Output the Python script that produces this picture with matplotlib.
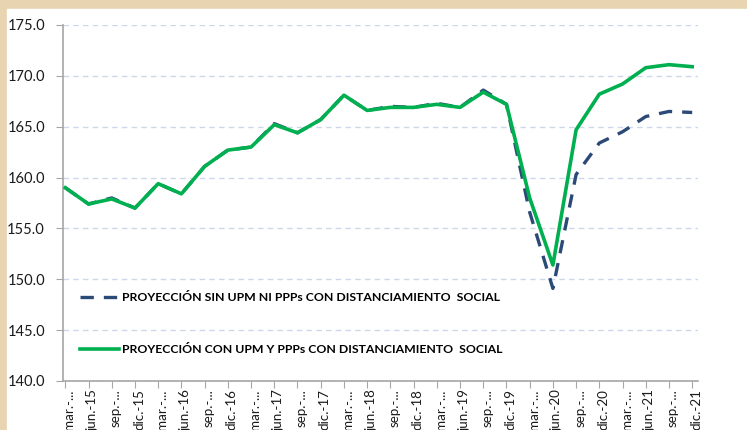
import matplotlib.pyplot as plt
from matplotlib.patches import Rectangle
from matplotlib.lines import Line2D
from matplotlib.transforms import ScaledTranslation

plt.rcParams['font.family'] = ['Lato', 'DejaVu Sans']

# quarterly labels, mar-15 .. dic-21
quarters = ["mar.-...", "jun.-15", "sep.-...", "dic.-15",
            "mar.-...", "jun.-16", "sep.-...", "dic.-16",
            "mar.-...", "jun.-17", "sep.-...", "dic.-17",
            "mar.-...", "jun.-18", "sep.-...", "dic.-18",
            "mar.-...", "jun.-19", "sep.-...", "dic.-19",
            "mar.-...", "jun.-20", "sep.-...", "dic.-20",
            "mar.-...", "jun.-21", "sep.-...", "dic.-21"]

sin_upm = [159.0, 157.4, 158.0, 157.0, 159.4, 158.4, 161.1, 162.7,
           163.0, 165.3, 164.4, 165.7, 168.1, 166.6, 167.0, 166.9,
           167.3, 166.9, 168.6, 167.2, 156.6, 149.1, 160.3, 163.4,
           164.5, 166.0, 166.5, 166.4]

con_upm = [159.0, 157.4, 157.9, 157.0, 159.4, 158.4, 161.1, 162.7,
           163.0, 165.2, 164.4, 165.7, 168.1, 166.6, 166.9, 166.9,
           167.2, 166.9, 168.4, 167.2, 158.0, 151.4, 164.7, 168.2,
           169.2, 170.8, 171.1, 170.9]

label_sin = "PROYECCIÓN SIN UPM NI PPPs CON DISTANCIAMIENTO  SOCIAL"
label_con = "PROYECCIÓN CON UPM Y PPPs CON DISTANCIAMIENTO  SOCIAL"

navy = '#2B4A78'
green = '#00B050'

fig = plt.figure(figsize=(7.47, 4.30), dpi=100)
fig.patch.set_facecolor('#E8D4B0')
fig.patches.append(Rectangle((7 / 747, 0), 1, 1 - 9 / 430,
                             transform=fig.transFigure, color='white', zorder=0))

ax = fig.add_axes([63 / 747, 1 - 381 / 430, 635 / 747, 356 / 430])
ax.set_zorder(2)
ax.set_facecolor('white')

x = list(range(len(quarters)))
ax.plot(x, sin_upm, color=navy, lw=2.4, dashes=(4, 3), zorder=3)
ax.plot(x, con_upm, color=green, lw=2.6, zorder=4)

ax.set_ylim(140, 175)
ax.set_yticks(range(140, 176, 5))
ax.set_yticklabels(["%.1f" % v for v in range(140, 176, 5)])
ax.set_xlim(-0.1, 27.25)
ax.set_xticks(x)
ax.set_xticklabels(quarters, rotation=90, va='top', ha='center')

for v in range(145, 176, 5):
    ax.axhline(v, color='#CCD8EA', lw=1, dashes=(4, 3), zorder=1)

for s in ['top', 'right']:
    ax.spines[s].set_visible(False)
for s in ['left', 'bottom']:
    ax.spines[s].set_color('#A6A6A6')
    ax.spines[s].set_linewidth(1.2)

ax.tick_params(axis='y', length=5, color='#A6A6A6', labelsize=10.5, pad=8, labelcolor='#1a1a1a')
ax.tick_params(axis='x', length=5, color='#A6A6A6', labelsize=9.6, pad=1, labelcolor='#1a1a1a')
for lab in ax.get_xticklabels():
    lab.set_transform(lab.get_transform() + ScaledTranslation(0.04, 0, fig.dpi_scale_trans))

handles = [Line2D([], [], color=navy, lw=2.4, dashes=(4, 3)),
           Line2D([], [], color=green, lw=2.6)]
ax.legend(handles, [label_sin, label_con], loc='upper left',
          bbox_to_anchor=(0.01, 0.28), frameon=False,
          prop={'weight': 'bold', 'size': 8.8},
          handlelength=3.2, handletextpad=0.2, labelspacing=3.35)

fig.savefig('out.png', dpi=100, facecolor=fig.get_facecolor())
